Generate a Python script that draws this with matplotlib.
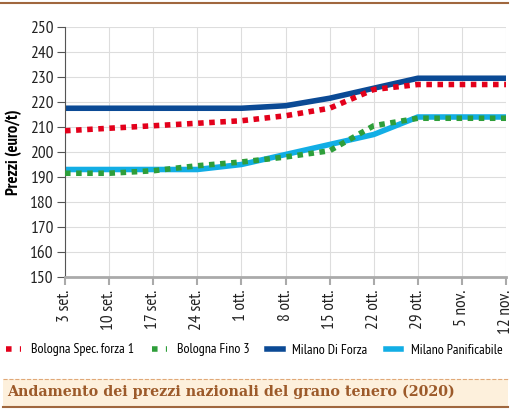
import matplotlib.pyplot as plt
from matplotlib.patches import Rectangle
from matplotlib.lines import Line2D

date = ['3 set.', '10 set.', '17 set.', '24 set.', '1 ott.', '8 ott.',
        '15 ott.', '22 ott.', '29 ott.', '5 nov.', '12 nov.']

bologna_spec = [208.5, 209.5, 210.5, 211.5, 212.5, 214.5, 217.5, 225, 227, 227, 227]
bologna_fino = [191.5, 191.5, 192.5, 194.5, 196, 198, 200.5, 210.5, 213.5, 213.5, 213.5]
milano_forza = [217.5, 217.5, 217.5, 217.5, 217.5, 218.5, 221.5, 225.5, 229.5, 229.5, 229.5]
milano_panif = [193, 193, 193, 193, 195, 199, 203, 207, 214, 214, 214]

nomi = ['Bologna Spec. forza 1', 'Bologna Fino 3', 'Milano Di Forza', 'Milano Panificabile']
colori = ['#e3001b', '#2e9e3a', '#0b4a95', '#12aee5']

font_narrow = ['PT Sans Narrow', 'Open Sans Condensed', 'DejaVu Sans']
font_titolo = ['Roboto Slab', 'DejaVu Serif']

fig = plt.figure(figsize=(5.13, 4.11), dpi=100)
ax = fig.add_axes([65 / 513, 1 - 277 / 411, 441 / 513, 250 / 411])

x = list(range(len(date)))
ax.plot(x, bologna_spec, color=colori[0], lw=4, ls=(0, (1, 1)), zorder=4)
ax.plot(x, bologna_fino, color=colori[1], lw=4, ls=(0, (1, 1)), zorder=3)
ax.plot(x, milano_forza, color=colori[2], lw=4, solid_capstyle='butt', zorder=2)
ax.plot(x, milano_panif, color=colori[3], lw=4, solid_capstyle='butt', zorder=2)

ax.set_xlim(0, len(date) - 1)
ax.set_ylim(150, 250)
ax.set_yticks(range(150, 251, 10))
ax.set_xticks(x)
ax.set_xticklabels(date, rotation=90, family=font_narrow, fontsize=12.5)
for lab in ax.get_yticklabels():
    lab.set_family(font_narrow)
    lab.set_fontsize(12.5)
ax.grid(True, color='#dddddd', lw=0.8)
ax.set_axisbelow(True)
for s in ['top', 'right']:
    ax.spines[s].set_visible(False)
ax.spines['left'].set_color('#555555')
ax.spines['bottom'].set_color('#aaaaaa')
ax.spines['bottom'].set_linewidth(2)
ax.tick_params(axis='y', colors='#555555', labelcolor='#222222', length=6, pad=2)
ax.tick_params(axis='x', colors='#aaaaaa', labelcolor='#222222', length=6, width=1.5, pad=3)
ax.set_ylabel('Prezzi (euro/t)', family=font_narrow, fontsize=12, fontweight='bold', labelpad=6)

handles = [
    Line2D([], [], color=colori[0], lw=4, ls=(0, (1, 1.5))),
    Line2D([], [], color=colori[1], lw=4, ls=(0, (1, 1.5))),
    Line2D([], [], color=colori[2], lw=4),
    Line2D([], [], color=colori[3], lw=4),
]
fig.legend(handles, nomi, loc='center', bbox_to_anchor=(0.495, 1 - 350 / 411), ncol=4,
           frameon=False, handlelength=1.1, columnspacing=1.3, handletextpad=0.7,
           borderpad=0, prop={'family': font_narrow, 'size': 10})

# linea in alto e riquadro del titolo
fig.add_artist(Line2D([0, 508 / 513], [1 - 3 / 411] * 2, color='#a0673e', lw=1.5))
fig.add_artist(Rectangle((3 / 513, 1 - 407 / 411), 505 / 513, 28 / 411,
                         facecolor='#fdf0dc', edgecolor='none'))
fig.add_artist(Line2D([3 / 513, 508 / 513], [1 - 379 / 411] * 2, color='#e0a878', lw=0.8, ls='--'))
fig.add_artist(Line2D([3 / 513, 508 / 513], [1 - 407 / 411] * 2, color='#a0673e', lw=1.5))
fig.text(7 / 513, 1 - 392 / 411, 'Andamento dei prezzi nazionali del grano tenero (2020)',
         family=font_titolo, fontweight='bold', fontsize=10.3, color='#9c5a2a', va='center')

fig.savefig('out.png', dpi=100)
